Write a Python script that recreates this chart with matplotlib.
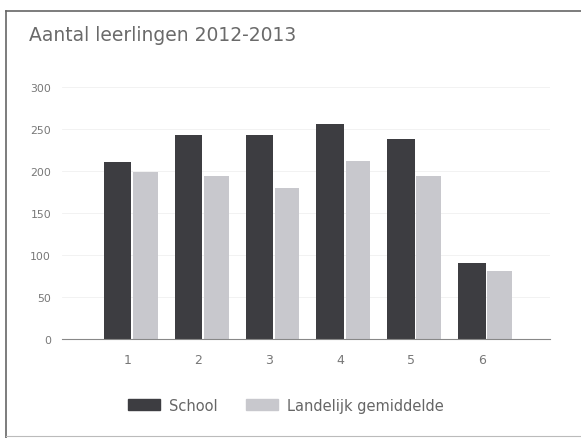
import numpy as np
import matplotlib.pyplot as plt
from matplotlib.lines import Line2D
from matplotlib.patches import Patch

categories = ['1', '2', '3', '4', '5', '6']
school = [211, 243, 243, 256, 238, 91]
landelijk = [199, 194, 180, 212, 194, 81]
yticks = [0, 50, 100, 150, 200, 250, 300]

dark = '#3d3d41'
light = '#c8c8cd'

fig = plt.figure(figsize=(5.81, 4.39), dpi=100)
fig.patch.set_facecolor('white')

# scanned box edges: top and left visible, bottom faint
fig.lines.append(Line2D([0.011, 1.0], [0.973, 0.973], transform=fig.transFigure,
                        color='#666666', linewidth=1.2))
fig.lines.append(Line2D([0.011, 0.011], [0.0, 0.973], transform=fig.transFigure,
                        color='#666666', linewidth=1.2))
fig.lines.append(Line2D([0.011, 1.0], [0.005, 0.005], transform=fig.transFigure,
                        color='#bbbbbb', linewidth=0.8))

fig.text(0.05, 0.92, 'Aantal leerlingen 2012-2013', fontsize=13.5, color='#6a6a6a', va='center')

ax = fig.add_axes([0.107, 0.2255, 0.84, 0.593])
x = np.arange(len(categories))
ax.bar(x - 0.14, school, width=0.39, color=dark, label='School')
ax.bar(x + 0.25, landelijk, width=0.35, color=light, label='Landelijk gemiddelde')

ax.set_xlim(-0.92, 5.96)
ax.set_ylim(0, 310)
ax.set_yticks(yticks)
ax.set_xticks(x)
ax.set_xticklabels(categories)
ax.tick_params(length=0, colors='#777777')
ax.tick_params(axis='y', pad=8, labelsize=7.8)
ax.tick_params(axis='x', pad=10, labelsize=9)
for s in ['top', 'right', 'left']:
    ax.spines[s].set_visible(False)
ax.spines['bottom'].set_color('#888888')
ax.yaxis.grid(True, color='#f0f0f0', linewidth=0.6)
ax.set_axisbelow(True)

handles = [Patch(color=dark), Patch(color=light)]
fig.legend(handles, ['School', 'Landelijk gemiddelde'], loc='center', bbox_to_anchor=(0.492, 0.075),
           ncol=2, frameon=False, fontsize=10.5, labelcolor='#666666',
           handlelength=2.2, handleheight=0.8, columnspacing=2.0, handletextpad=0.6)

plt.savefig('out.png', dpi=100)
